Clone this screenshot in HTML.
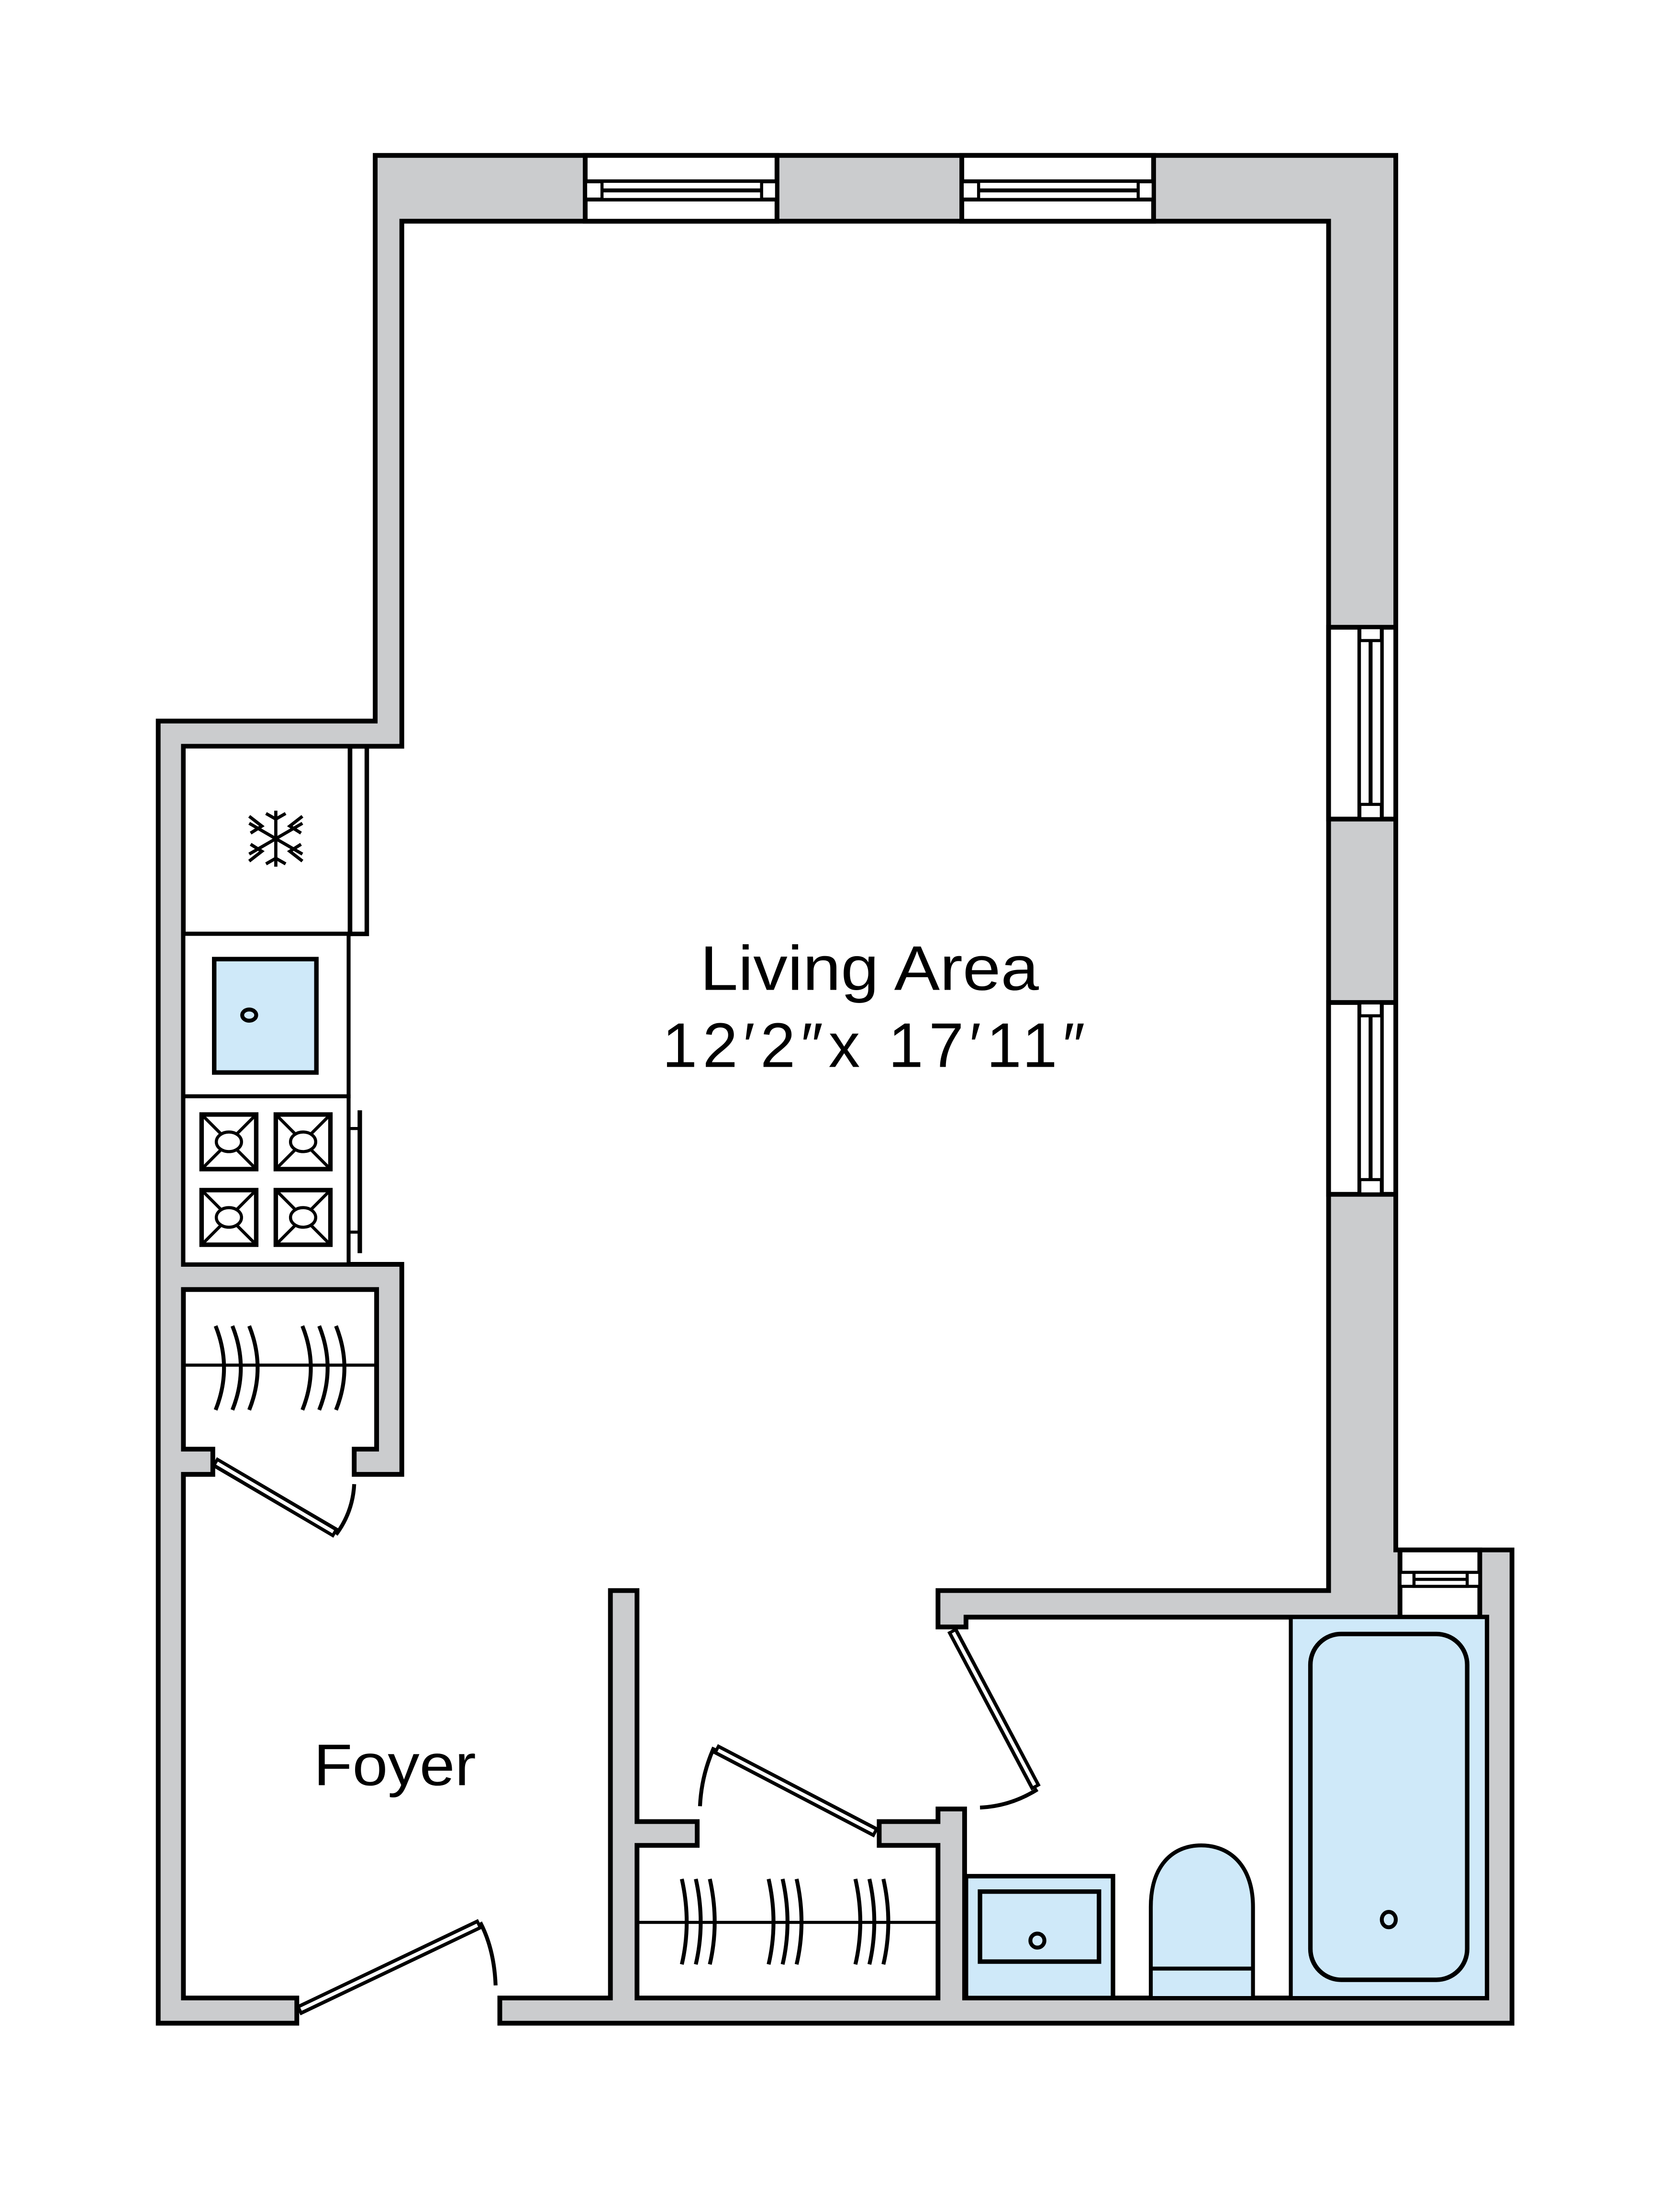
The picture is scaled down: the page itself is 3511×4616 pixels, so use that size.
<!DOCTYPE html>
<html><head><meta charset="utf-8"><style>html,body{margin:0;padding:0;background:#fff}svg{display:block}</style></head>
<body>
<svg width="3511" height="4616" viewBox="0 0 1200 1577.7" xmlns="http://www.w3.org/2000/svg">
<rect width="1200" height="1578" fill="#fff"/>
<g stroke="#000" stroke-width="3.4" stroke-linejoin="miter">
<path fill="#cbccce" d="M357,1445 L1080,1445 L1080,1107 L997,1107 L997,111 L268,111 L268,515 L113,515 L113,1445 L212,1445 L212,1427
L131,1427 L131,1053 L152,1053 L152,1035 L131,1035 L131,921 L269,921 L269,1035 L253,1035 L253,1053 L287,1053 L287,903 L131,903 L131,533 L287,533 L287,158 L949,158 L949,1136 L670,1136 L670,1162 L690,1162 L690,1155 L1062,1155 L1062,1427 L689,1427 L689,1292 L670,1292 L670,1301 L628,1301 L628,1318 L670,1318 L670,1427 L455,1427 L455,1318 L498,1318 L498,1301 L455,1301 L455,1136 L436,1136 L436,1427 L357,1427 Z"/>
<g fill="#fff">
<rect x="418" y="111" width="137" height="47"/>
<rect x="418" y="129.5" width="137" height="13" stroke-width="2.8"/>
<rect x="430" y="129.5" width="114" height="13" stroke-width="2.2"/>
<line x1="430" y1="136" x2="544" y2="136" stroke-width="2.8"/>
<rect x="687" y="111" width="137" height="47"/>
<rect x="687" y="129.5" width="137" height="13" stroke-width="2.8"/>
<rect x="699" y="129.5" width="114" height="13" stroke-width="2.2"/>
<line x1="699" y1="136" x2="813" y2="136" stroke-width="2.8"/>
<rect x="949" y="448" width="48" height="137"/>
<rect x="971" y="448" width="16" height="137" stroke-width="2.8"/>
<rect x="971" y="457.5" width="16" height="117" stroke-width="2.2"/>
<line x1="979" y1="457.5" x2="979" y2="574.5" stroke-width="2.8"/>
<rect x="949" y="716" width="48" height="137"/>
<rect x="971" y="716" width="16" height="137" stroke-width="2.8"/>
<rect x="971" y="725.5" width="16" height="117" stroke-width="2.2"/>
<line x1="979" y1="725.5" x2="979" y2="842.5" stroke-width="2.8"/>
<rect x="1000" y="1107" width="57" height="48"/>
<rect x="1000" y="1123" width="57" height="10" stroke-width="2.2"/>
<rect x="1010" y="1123" width="38" height="10" stroke-width="2.2"/>
<line x1="1010" y1="1128" x2="1048" y2="1128" stroke-width="2.2"/>
</g>
</g>
<g stroke="#000" fill="none" stroke-width="2.8">
<rect x="131" y="533" width="119" height="134" fill="#fff" stroke-width="3.2"/>
<rect x="250" y="533" width="12" height="134" stroke-width="3.2"/>
<rect x="131" y="667" width="118" height="116" fill="#fff"/>
<rect x="153" y="685" width="73" height="81" fill="#cfe9f9" stroke-width="3.2"/>
<ellipse cx="178" cy="725" rx="5" ry="4"/>
<rect x="131" y="783" width="118" height="120" fill="#fff"/>
<g stroke-width="3.2">
<rect x="144" y="796" width="39" height="39"/><rect x="197" y="796" width="39" height="39"/>
<rect x="144" y="850" width="39" height="39"/><rect x="197" y="850" width="39" height="39"/>
</g>
<g stroke-width="2.2">
<path d="M144,796 L183,835 M183,796 L144,835 M197,796 L236,835 M236,796 L197,835 M144,850 L183,889 M183,850 L144,889 M197,850 L236,889 M236,850 L197,889"/>
</g>
<g fill="#fff" stroke-width="2.2">
<ellipse cx="163.5" cy="815.5" rx="9" ry="7"/><ellipse cx="216.5" cy="815.5" rx="9" ry="7"/>
<ellipse cx="163.5" cy="869.5" rx="9" ry="7"/><ellipse cx="216.5" cy="869.5" rx="9" ry="7"/>
</g>
<line x1="257" y1="793" x2="257" y2="895" stroke-width="3.2"/>
<line x1="249" y1="806" x2="257" y2="806" stroke-width="2.2"/>
<line x1="249" y1="880" x2="257" y2="880" stroke-width="2.2"/>
<g stroke-width="2.3">
<line x1="197" y1="579" x2="197" y2="619"/>
<line x1="178" y1="588" x2="216" y2="610"/>
<line x1="178" y1="610" x2="216" y2="588"/>
<path d="M190,581 L197,585 L204,581 M190,617 L197,613 L204,617"/>
<path d="M178,583 L187,590 L179,595 M216,583 L207,590 L215,595"/>
<path d="M178,615 L187,608 L179,603 M216,615 L207,608 L215,603"/>
</g>
</g>
<g stroke="#000" fill="none" stroke-width="2.8">
<line x1="131" y1="975" x2="269" y2="975" stroke-width="2.2"/>
<path d="M154,947 Q166,977 154,1007 M166,947 Q178,977 166,1007 M178,947 Q190,977 178,1007 M216,947 Q228,977 216,1007 M228,947 Q240,977 228,1007 M240,947 Q252,977 240,1007"/>
<line x1="455" y1="1373" x2="670" y2="1373" stroke-width="2.2"/>
<path d="M487,1342 Q494,1373 487,1403 M497,1342 Q504,1373 497,1403 M507,1342 Q514,1373 507,1403 M549,1342 Q556,1373 549,1403 M559,1342 Q566,1373 559,1403 M569,1342 Q576,1373 569,1403 M611,1342 Q618,1373 611,1403 M621,1342 Q628,1373 621,1403 M631,1342 Q638,1373 631,1403"/>
</g>
<g fill="none" stroke-linecap="butt">
<g stroke="#000" stroke-width="7.5"><line x1="153" y1="1044" x2="240" y2="1095"/><line x1="213" y1="1436" x2="343" y2="1374"/><line x1="626" y1="1309" x2="511" y2="1249"/><line x1="680" y1="1164" x2="740" y2="1277"/></g>
<g stroke="#fff" stroke-width="2.5"><line x1="155" y1="1045" x2="238" y2="1094"/><line x1="215" y1="1435" x2="341" y2="1375"/><line x1="624" y1="1308" x2="513" y2="1250"/><line x1="681" y1="1166" x2="739" y2="1275"/></g>
<g stroke="#000" stroke-width="2.8"><path d="M240,1096 Q252,1080 253,1060"/><path d="M343,1373 Q353,1392 354,1418"/><path d="M510,1248 Q501,1268 500,1290"/><path d="M741,1278 Q722,1290 700,1291"/></g>
</g>
<g stroke="#000" stroke-width="2.8" fill="#cfe9f9">
<rect x="690" y="1340" width="105" height="87" stroke-width="3.2"/>
<rect x="700" y="1351" width="85" height="50" stroke-width="3.2"/>
<ellipse cx="741" cy="1386" rx="5" ry="5" fill="none"/>
<path d="M822,1427 L822,1362 C822,1332 838,1318 858,1318 C878,1318 895,1332 895,1362 L895,1427 Z"/>
<line x1="822" y1="1406" x2="895" y2="1406"/>
<rect x="922" y="1155" width="140" height="272"/>
<rect x="936" y="1167" width="112" height="247" rx="22" ry="22" stroke-width="3.2"/>
<ellipse cx="992" cy="1371" rx="5" ry="5.5" fill="none"/>
</g>
<g font-family="'Liberation Sans', sans-serif" fill="#000" text-anchor="middle">
<text x="621" y="707" font-size="45" textLength="242" lengthAdjust="spacingAndGlyphs">Living Area</text>
<text x="624" y="762" font-size="45" textLength="302" lengthAdjust="spacing">12′2″x 17′11″</text>
<text x="282" y="1275" font-size="42" textLength="116" lengthAdjust="spacingAndGlyphs">Foyer</text>
</g>
</svg>
</body></html>
